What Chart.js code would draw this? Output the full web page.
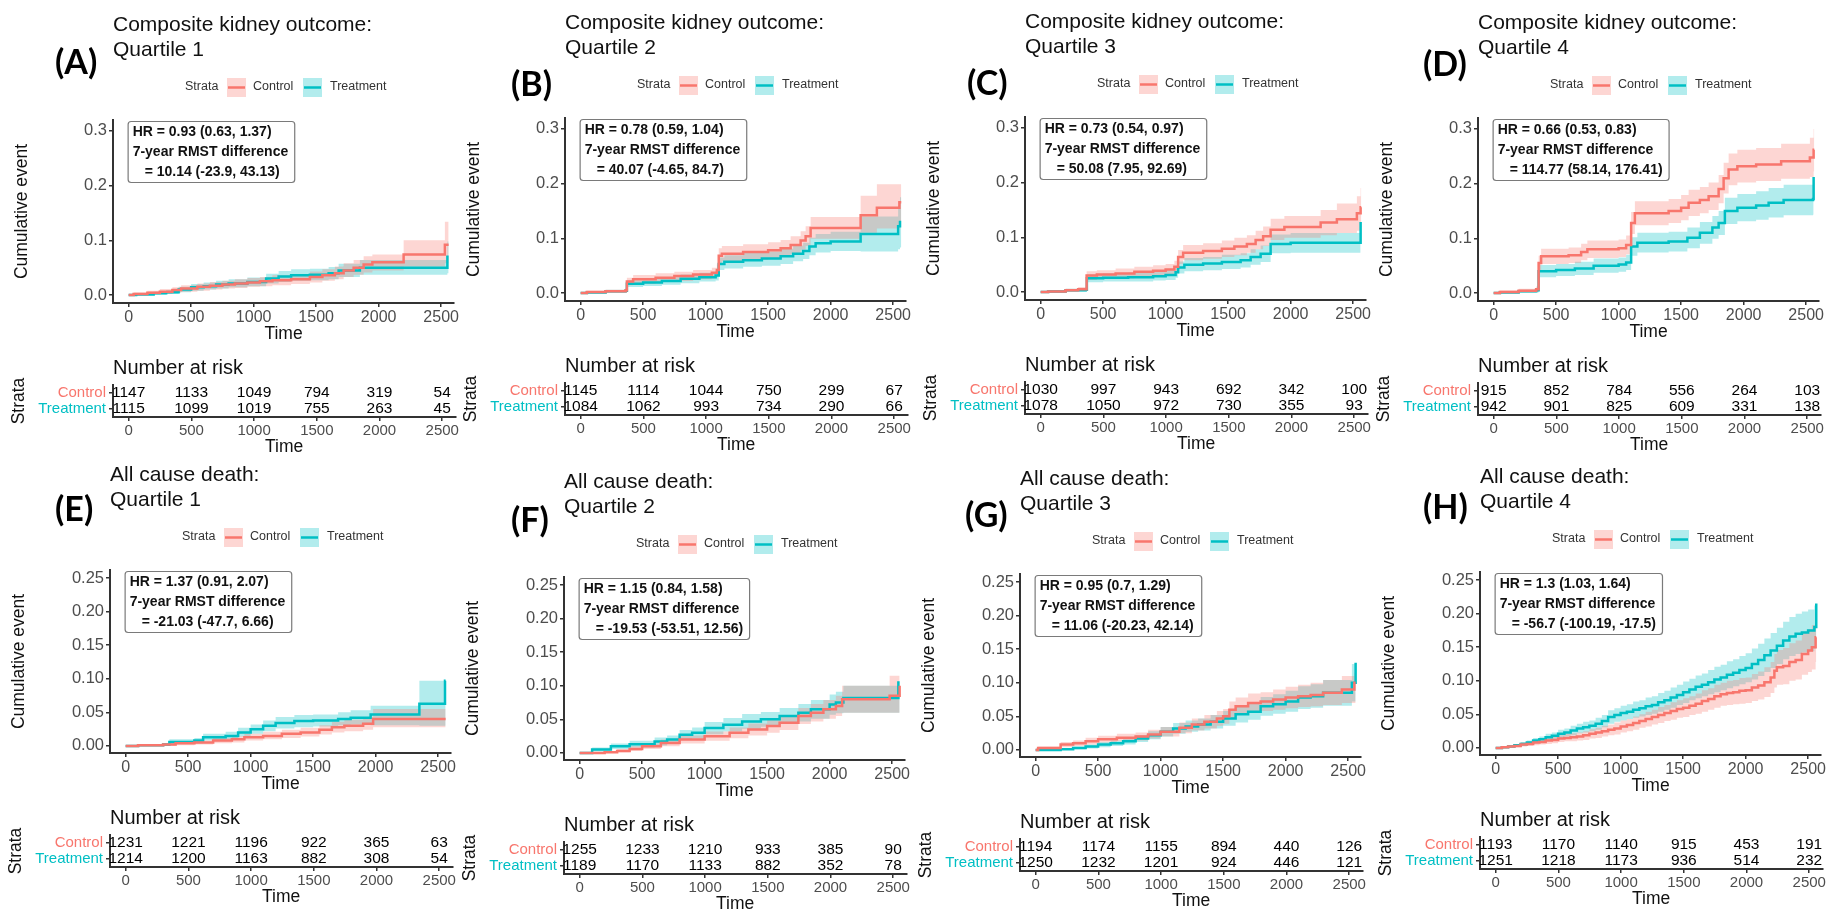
<!DOCTYPE html>
<html><head><meta charset="utf-8">
<script src="https://cdn.jsdelivr.net/npm/chart.js@4.4.1/dist/chart.umd.min.js"></script>
<style>
html,body{margin:0;padding:0;background:#fff;}
body{width:1829px;height:911px;overflow:hidden;position:relative;}
canvas{position:absolute;}
</style></head>
<body>
<script>
// ---------------- DATA ----------------
const timeTicks = [0, 500, 1000, 1500, 2000, 2500];
const kidneyYTicks = [0, 0.1, 0.2, 0.3];
const deathYTicks = [0, 0.05, 0.10, 0.15, 0.20, 0.25];
const strataNames = ['Control', 'Treatment'];
const outcomeTitles = ['Composite kidney outcome:', 'All cause death:'];
const quartileLabels = ['Quartile 1', 'Quartile 2', 'Quartile 3', 'Quartile 4'];
const panelLetters = ['A', 'B', 'C', 'D', 'E', 'F', 'G', 'H'];
const hrText = ['HR = 0.93 (0.63, 1.37)', 'HR = 0.78 (0.59, 1.04)', 'HR = 0.73 (0.54, 0.97)', 'HR = 0.66 (0.53, 0.83)',
                'HR = 1.37 (0.91, 2.07)', 'HR = 1.15 (0.84, 1.58)', 'HR = 0.95 (0.7, 1.29)', 'HR = 1.3 (1.03, 1.64)'];
const rmstLabel = '7-year RMST difference';
const rmstText = ['= 10.14 (-23.9, 43.13)', '= 40.07 (-4.65, 84.7)', '= 50.08 (7.95, 92.69)', '= 114.77 (58.14, 176.41)',
                  '= -21.03 (-47.7, 6.66)', '= -19.53 (-53.51, 12.56)', '= 11.06 (-20.23, 42.14)', '= -56.7 (-100.19, -17.5)'];

// curves: [time, cumulative event, lower CI, upper CI]
const kidneyQ1_control = [[0,0,0,0],[40,0.002,0,0.005],[150,0.004,0.001,0.008],[250,0.006,0.002,0.011],[350,0.009,0.004,0.014],[420,0.012,0.006,0.018],[550,0.015,0.008,0.021],[650,0.017,0.010,0.024],[750,0.019,0.012,0.026],[850,0.021,0.013,0.029],[950,0.023,0.015,0.031],[1050,0.025,0.016,0.033],[1150,0.027,0.018,0.036],[1300,0.029,0.020,0.038],[1450,0.033,0.023,0.043],[1550,0.036,0.026,0.047],[1650,0.040,0.029,0.052],[1720,0.045,0.033,0.058],[1800,0.050,0.037,0.064],[1880,0.056,0.041,0.071],[1950,0.060,0.045,0.074],[2200,0.074,0.052,0.100],[2530,0.092,0.058,0.134],[2560,0.092,0.058,0.134]];
const kidneyQ1_treatment = [[0,0,0,0],[60,0.001,0,0.003],[200,0.003,0.001,0.006],[300,0.005,0.002,0.009],[400,0.010,0.005,0.015],[500,0.014,0.008,0.020],[600,0.016,0.010,0.023],[700,0.019,0.012,0.026],[800,0.021,0.014,0.029],[950,0.024,0.016,0.032],[1100,0.030,0.021,0.039],[1200,0.034,0.024,0.044],[1300,0.036,0.026,0.047],[1450,0.037,0.027,0.048],[1600,0.040,0.029,0.051],[1680,0.045,0.033,0.057],[1850,0.050,0.037,0.064],[2550,0.070,0.040,0.098],[2560,0.070,0.040,0.098]];
const kidneyQ2_control = [[0,0,0,0],[50,0.002,0,0.004],[200,0.003,0.001,0.006],[360,0.005,0.002,0.009],[370,0.021,0.014,0.028],[420,0.025,0.017,0.033],[600,0.028,0.020,0.036],[750,0.031,0.022,0.039],[900,0.034,0.025,0.042],[1050,0.037,0.027,0.046],[1090,0.042,0.032,0.052],[1105,0.068,0.055,0.082],[1130,0.072,0.058,0.086],[1300,0.075,0.061,0.089],[1500,0.078,0.064,0.093],[1600,0.082,0.067,0.097],[1680,0.088,0.072,0.104],[1760,0.096,0.079,0.113],[1800,0.104,0.086,0.122],[1840,0.119,0.099,0.139],[2240,0.142,0.110,0.178],[2370,0.156,0.118,0.199],[2550,0.166,0.122,0.199],[2565,0.166,0.122,0.199]];
const kidneyQ2_treatment = [[0,0,0,0],[50,0.001,0,0.003],[200,0.003,0.001,0.006],[360,0.004,0.001,0.008],[370,0.017,0.011,0.023],[500,0.019,0.013,0.026],[650,0.022,0.015,0.029],[800,0.026,0.018,0.034],[950,0.029,0.021,0.037],[1080,0.032,0.023,0.041],[1105,0.053,0.042,0.065],[1150,0.057,0.045,0.069],[1300,0.060,0.048,0.073],[1450,0.063,0.050,0.076],[1600,0.067,0.053,0.081],[1700,0.072,0.058,0.087],[1780,0.077,0.062,0.092],[1830,0.085,0.069,0.101],[1880,0.091,0.074,0.108],[2000,0.094,0.077,0.112],[2240,0.108,0.076,0.140],[2540,0.122,0.080,0.160],[2555,0.130,0.083,0.175],[2565,0.130,0.083,0.175]];
const kidneyQ3_control = [[0,0,0,0],[60,0.001,0,0.003],[200,0.003,0.001,0.006],[300,0.005,0.002,0.009],[368,0.030,0.022,0.038],[450,0.032,0.024,0.040],[600,0.034,0.025,0.043],[750,0.037,0.028,0.046],[900,0.039,0.029,0.049],[1000,0.041,0.031,0.051],[1070,0.046,0.035,0.057],[1100,0.064,0.051,0.077],[1140,0.072,0.058,0.086],[1300,0.075,0.061,0.089],[1450,0.079,0.064,0.094],[1550,0.083,0.067,0.099],[1650,0.088,0.072,0.104],[1720,0.095,0.078,0.112],[1780,0.102,0.084,0.120],[1840,0.114,0.095,0.134],[1950,0.119,0.099,0.139],[2240,0.127,0.104,0.150],[2370,0.133,0.108,0.162],[2530,0.144,0.112,0.175],[2560,0.155,0.120,0.190],[2565,0.155,0.120,0.190]];
const kidneyQ3_treatment = [[0,0,0,0],[60,0.001,0,0.003],[200,0.003,0.001,0.006],[360,0.004,0.001,0.008],[370,0.025,0.018,0.032],[500,0.026,0.019,0.034],[700,0.027,0.019,0.035],[900,0.029,0.021,0.037],[1000,0.031,0.022,0.040],[1080,0.036,0.026,0.046],[1100,0.045,0.034,0.056],[1150,0.050,0.038,0.062],[1300,0.052,0.040,0.064],[1450,0.055,0.042,0.068],[1600,0.058,0.045,0.071],[1680,0.064,0.050,0.078],[1760,0.070,0.055,0.085],[1840,0.088,0.071,0.105],[2000,0.090,0.072,0.108],[2555,0.090,0.072,0.108],[2560,0.128,0.072,0.130]];
const kidneyQ4_control = [[0,0,0,0],[50,0.002,0,0.005],[200,0.004,0.001,0.008],[340,0.007,0.002,0.012],[360,0.055,0.042,0.068],[380,0.067,0.053,0.081],[600,0.069,0.055,0.083],[700,0.075,0.060,0.090],[750,0.080,0.064,0.096],[1000,0.082,0.066,0.098],[1060,0.088,0.071,0.105],[1100,0.128,0.108,0.148],[1130,0.146,0.124,0.168],[1400,0.150,0.128,0.172],[1500,0.156,0.133,0.179],[1560,0.165,0.141,0.189],[1650,0.170,0.146,0.194],[1720,0.177,0.152,0.202],[1800,0.190,0.164,0.216],[1840,0.210,0.182,0.238],[1880,0.226,0.197,0.255],[1950,0.232,0.202,0.262],[2100,0.235,0.205,0.265],[2300,0.241,0.209,0.273],[2530,0.248,0.212,0.284],[2560,0.262,0.222,0.300],[2565,0.262,0.222,0.300]];
const kidneyQ4_treatment = [[0,0,0,0],[50,0.001,0,0.003],[200,0.003,0.001,0.006],[340,0.005,0.001,0.009],[360,0.040,0.029,0.051],[500,0.042,0.031,0.053],[650,0.045,0.033,0.057],[800,0.050,0.037,0.063],[1000,0.052,0.039,0.065],[1060,0.056,0.042,0.070],[1100,0.085,0.068,0.102],[1150,0.092,0.074,0.110],[1400,0.094,0.076,0.112],[1550,0.101,0.082,0.120],[1650,0.110,0.090,0.130],[1750,0.120,0.099,0.141],[1800,0.128,0.106,0.150],[1850,0.150,0.126,0.174],[1950,0.156,0.131,0.181],[2100,0.160,0.134,0.186],[2200,0.165,0.138,0.192],[2320,0.170,0.142,0.198],[2555,0.172,0.143,0.200],[2560,0.212,0.143,0.215]];
const deathQ1_control = [[0,0,0,0],[100,0.001,0,0.003],[300,0.002,0,0.004],[400,0.004,0.001,0.007],[550,0.005,0.002,0.008],[700,0.008,0.004,0.012],[850,0.010,0.005,0.015],[950,0.013,0.008,0.018],[1100,0.015,0.010,0.021],[1250,0.018,0.012,0.024],[1400,0.020,0.014,0.027],[1550,0.024,0.017,0.031],[1650,0.028,0.020,0.036],[1750,0.030,0.022,0.039],[1900,0.033,0.024,0.043],[1980,0.040,0.028,0.055],[2560,0.040,0.028,0.055]];
const deathQ1_treatment = [[0,0,0,0],[100,0.001,0,0.003],[300,0.002,0,0.004],[350,0.006,0.003,0.010],[550,0.008,0.004,0.012],[620,0.013,0.008,0.018],[800,0.015,0.010,0.021],[900,0.020,0.014,0.027],[1000,0.025,0.018,0.032],[1100,0.030,0.022,0.038],[1200,0.034,0.026,0.043],[1350,0.037,0.028,0.046],[1500,0.038,0.029,0.047],[1700,0.040,0.031,0.050],[1800,0.042,0.032,0.053],[1960,0.047,0.031,0.060],[2350,0.063,0.030,0.097],[2555,0.097,0.030,0.097],[2560,0.097,0.030,0.097]];
const deathQ2_control = [[0,0,0,0],[200,0.001,0,0.003],[300,0.003,0.001,0.006],[400,0.006,0.003,0.010],[500,0.010,0.006,0.014],[650,0.015,0.010,0.020],[800,0.020,0.014,0.026],[1000,0.025,0.018,0.032],[1200,0.030,0.022,0.038],[1350,0.035,0.026,0.044],[1500,0.040,0.030,0.050],[1600,0.045,0.034,0.056],[1750,0.055,0.043,0.067],[1850,0.060,0.047,0.073],[1950,0.065,0.051,0.079],[2050,0.070,0.055,0.085],[2100,0.080,0.060,0.100],[2480,0.085,0.060,0.115],[2560,0.100,0.060,0.115]];
const deathQ2_treatment = [[0,0,0,0],[100,0.005,0.002,0.008],[250,0.010,0.006,0.014],[400,0.013,0.008,0.018],[600,0.017,0.011,0.023],[700,0.020,0.014,0.026],[800,0.027,0.020,0.034],[900,0.030,0.022,0.038],[1000,0.037,0.028,0.046],[1150,0.042,0.032,0.052],[1300,0.047,0.036,0.058],[1450,0.050,0.039,0.061],[1600,0.055,0.043,0.067],[1750,0.060,0.047,0.073],[1850,0.065,0.051,0.079],[2000,0.072,0.057,0.087],[2050,0.075,0.059,0.091],[2110,0.082,0.060,0.100],[2550,0.105,0.060,0.100],[2560,0.105,0.060,0.105]];
const deathQ3_control = [[0,0,0,0],[20,0.003,0.001,0.005],[200,0.008,0.004,0.012],[300,0.010,0.006,0.014],[400,0.013,0.008,0.018],[500,0.016,0.011,0.021],[650,0.018,0.013,0.024],[800,0.020,0.014,0.026],[900,0.023,0.017,0.030],[1000,0.027,0.020,0.034],[1150,0.033,0.025,0.041],[1250,0.038,0.029,0.047],[1350,0.042,0.032,0.052],[1450,0.047,0.036,0.058],[1500,0.050,0.039,0.061],[1550,0.060,0.048,0.072],[1600,0.065,0.052,0.078],[1700,0.070,0.056,0.084],[1800,0.072,0.058,0.086],[1900,0.075,0.060,0.090],[2000,0.078,0.062,0.094],[2100,0.080,0.064,0.097],[2200,0.082,0.065,0.100],[2300,0.085,0.067,0.104],[2450,0.090,0.070,0.110],[2550,0.100,0.070,0.115],[2560,0.100,0.070,0.115]];
const deathQ3_treatment = [[0,0,0,0],[200,0.001,0,0.003],[300,0.003,0.001,0.005],[400,0.005,0.002,0.008],[500,0.008,0.004,0.012],[600,0.010,0.006,0.014],[700,0.013,0.008,0.018],[800,0.017,0.012,0.022],[900,0.022,0.016,0.028],[1000,0.027,0.020,0.034],[1100,0.032,0.024,0.040],[1200,0.035,0.027,0.044],[1300,0.038,0.029,0.047],[1400,0.042,0.032,0.052],[1500,0.047,0.036,0.058],[1600,0.053,0.041,0.065],[1700,0.057,0.045,0.069],[1800,0.065,0.051,0.079],[1900,0.068,0.054,0.083],[2000,0.072,0.057,0.088],[2100,0.078,0.061,0.095],[2200,0.080,0.063,0.098],[2300,0.085,0.066,0.104],[2530,0.100,0.072,0.128],[2560,0.130,0.072,0.130]];
const deathQ4_control = [[0,0,0,0],[50,0.001,0,0.002],[100,0.002,0.001,0.004],[150,0.003,0.001,0.005],[200,0.005,0.002,0.008],[250,0.006,0.003,0.009],[300,0.008,0.004,0.011],[350,0.009,0.005,0.013],[400,0.011,0.006,0.015],[450,0.012,0.007,0.017],[500,0.014,0.009,0.019],[550,0.015,0.010,0.021],[600,0.016,0.010,0.022],[650,0.017,0.011,0.023],[700,0.019,0.012,0.025],[750,0.021,0.014,0.028],[800,0.023,0.015,0.030],[850,0.025,0.017,0.033],[900,0.027,0.019,0.035],[950,0.029,0.020,0.038],[1000,0.032,0.023,0.041],[1050,0.034,0.025,0.043],[1100,0.037,0.027,0.047],[1150,0.040,0.030,0.050],[1200,0.043,0.032,0.054],[1250,0.046,0.035,0.057],[1300,0.049,0.037,0.061],[1350,0.052,0.040,0.064],[1400,0.055,0.042,0.068],[1450,0.058,0.045,0.071],[1500,0.060,0.046,0.074],[1550,0.063,0.049,0.077],[1600,0.066,0.051,0.081],[1650,0.070,0.054,0.086],[1700,0.073,0.057,0.089],[1750,0.077,0.060,0.094],[1800,0.080,0.063,0.097],[1850,0.082,0.064,0.100],[1900,0.083,0.065,0.101],[1950,0.085,0.066,0.104],[2000,0.086,0.067,0.105],[2050,0.090,0.070,0.110],[2100,0.093,0.072,0.114],[2150,0.098,0.076,0.120],[2200,0.105,0.082,0.128],[2230,0.115,0.090,0.140],[2250,0.120,0.094,0.146],[2300,0.122,0.095,0.149],[2350,0.128,0.100,0.156],[2400,0.131,0.102,0.160],[2450,0.140,0.109,0.171],[2500,0.145,0.113,0.177],[2530,0.150,0.117,0.183],[2560,0.165,0.128,0.200],[2565,0.165,0.128,0.200]];
const deathQ4_treatment = [[0,0,0,0],[50,0.001,0,0.002],[100,0.002,0.001,0.004],[150,0.004,0.002,0.006],[200,0.006,0.003,0.009],[250,0.008,0.005,0.011],[300,0.011,0.007,0.015],[350,0.013,0.009,0.017],[400,0.016,0.011,0.021],[450,0.018,0.013,0.023],[500,0.021,0.015,0.027],[550,0.023,0.017,0.029],[600,0.026,0.019,0.033],[650,0.029,0.022,0.036],[700,0.031,0.023,0.039],[750,0.033,0.025,0.041],[800,0.036,0.027,0.045],[850,0.040,0.031,0.049],[900,0.046,0.036,0.056],[950,0.049,0.039,0.059],[1000,0.052,0.041,0.063],[1050,0.054,0.043,0.065],[1100,0.057,0.045,0.069],[1150,0.059,0.047,0.071],[1200,0.062,0.049,0.075],[1250,0.064,0.051,0.077],[1300,0.068,0.054,0.082],[1350,0.071,0.057,0.085],[1400,0.075,0.060,0.090],[1450,0.079,0.064,0.094],[1500,0.083,0.067,0.099],[1550,0.087,0.071,0.103],[1600,0.091,0.074,0.108],[1650,0.094,0.077,0.111],[1700,0.098,0.080,0.116],[1750,0.102,0.083,0.121],[1800,0.105,0.086,0.124],[1850,0.109,0.089,0.129],[1900,0.112,0.092,0.132],[1950,0.116,0.095,0.137],[2000,0.119,0.098,0.141],[2050,0.125,0.102,0.148],[2100,0.131,0.107,0.155],[2150,0.138,0.113,0.163],[2200,0.145,0.119,0.171],[2250,0.152,0.125,0.179],[2300,0.160,0.132,0.188],[2350,0.166,0.137,0.195],[2400,0.170,0.140,0.200],[2450,0.172,0.142,0.203],[2500,0.175,0.144,0.206],[2550,0.180,0.148,0.212],[2565,0.215,0.160,0.215]];

// number at risk at timeTicks
const kidneyQ1_riskControl = [1147, 1133, 1049, 794, 319, 54];
const kidneyQ1_riskTreatment = [1115, 1099, 1019, 755, 263, 45];
const kidneyQ2_riskControl = [1145, 1114, 1044, 750, 299, 67];
const kidneyQ2_riskTreatment = [1084, 1062, 993, 734, 290, 66];
const kidneyQ3_riskControl = [1030, 997, 943, 692, 342, 100];
const kidneyQ3_riskTreatment = [1078, 1050, 972, 730, 355, 93];
const kidneyQ4_riskControl = [915, 852, 784, 556, 264, 103];
const kidneyQ4_riskTreatment = [942, 901, 825, 609, 331, 138];
const deathQ1_riskControl = [1231, 1221, 1196, 922, 365, 63];
const deathQ1_riskTreatment = [1214, 1200, 1163, 882, 308, 54];
const deathQ2_riskControl = [1255, 1233, 1210, 933, 385, 90];
const deathQ2_riskTreatment = [1189, 1170, 1133, 882, 352, 78];
const deathQ3_riskControl = [1194, 1174, 1155, 894, 440, 126];
const deathQ3_riskTreatment = [1250, 1232, 1201, 924, 446, 121];
const deathQ4_riskControl = [1193, 1170, 1140, 915, 453, 191];
const deathQ4_riskTreatment = [1251, 1218, 1173, 936, 514, 232];

// ---------------- LAYOUT / STYLE ----------------
const RED = '#F8766D', TEAL = '#00BFC4';
const RED_FILL = 'rgba(248,118,109,0.30)', TEAL_FILL = 'rgba(0,191,196,0.30)';
const FONT = "'Liberation Sans', Arial, Helvetica, sans-serif";
const panelOrigin = [[0,0],[452,-2],[912,-3],[1365,-2],[-3,450],[451,457],[907,454],[1367,452]];
const letterPos = [[55,63],[59,87],[55,87],[58,67],[58,60],[60,64],[58,62],[56,56]];
Chart.defaults.font.family = FONT;

const curveSets = [
  [kidneyQ1_control, kidneyQ1_treatment], [kidneyQ2_control, kidneyQ2_treatment],
  [kidneyQ3_control, kidneyQ3_treatment], [kidneyQ4_control, kidneyQ4_treatment],
  [deathQ1_control, deathQ1_treatment], [deathQ2_control, deathQ2_treatment],
  [deathQ3_control, deathQ3_treatment], [deathQ4_control, deathQ4_treatment]];
const riskSets = [
  [kidneyQ1_riskControl, kidneyQ1_riskTreatment], [kidneyQ2_riskControl, kidneyQ2_riskTreatment],
  [kidneyQ3_riskControl, kidneyQ3_riskTreatment], [kidneyQ4_riskControl, kidneyQ4_riskTreatment],
  [deathQ1_riskControl, deathQ1_riskTreatment], [deathQ2_riskControl, deathQ2_riskTreatment],
  [deathQ3_riskControl, deathQ3_riskTreatment], [deathQ4_riskControl, deathQ4_riskTreatment]];

const X_MIN = -125, X_MAX = 2604;

function makeCanvas(left, top, w, h) {
  const c = document.createElement('canvas');
  c.width = w; c.height = h;
  c.style.left = left + 'px'; c.style.top = top + 'px';
  c.style.width = w + 'px'; c.style.height = h + 'px';
  document.body.appendChild(c);
  return c;
}

function xScale(fontSize) {
  return {
    type: 'linear', min: X_MIN, max: X_MAX,
    afterBuildTicks: s => { s.ticks = timeTicks.map(v => ({ value: v })); },
    ticks: { font: { size: fontSize }, color: '#4d4d4d', padding: 1, maxRotation: 0, autoSkip: false, callback: v => String(v) },
    grid: { drawOnChartArea: false, drawTicks: true, tickLength: 4, color: '#333', lineWidth: 1.5 },
    border: { display: true, color: '#333', width: 2 },
    title: { display: true, text: 'Time', color: '#111', font: { size: 17.5, lineHeight: 1.2 }, padding: { top: 0, bottom: 0 } }
  };
}

function kmDecor(i) {
  const isKidney = i < 4;
  return {
    id: 'kmDecor',
    afterDraw(chart) {
      const { ctx, chartArea, scales: { x } } = chart;
      ctx.save();
      ctx.textBaseline = 'middle'; ctx.textAlign = 'left';
      // titles
      ctx.fillStyle = '#111';
      ctx.font = '21px ' + FONT;
      ctx.fillText(outcomeTitles[isKidney ? 0 : 1], chartArea.left, 25);
      ctx.fillText(quartileLabels[i % 4], chartArea.left, 50);
      // panel letter
      ctx.fillStyle = '#000';
      ctx.font = "bold 34px Lato, 'Open Sans', sans-serif";
      ctx.fillText('(' + panelLetters[i] + ')', letterPos[i][0], letterPos[i][1]);
      // legend
      ctx.font = '12.5px ' + FONT;
      ctx.fillStyle = '#333';
      ctx.fillText('Strata', 185, 87);
      const keys = [[227, RED_FILL, RED, strataNames[0], 253], [303, TEAL_FILL, TEAL, strataNames[1], 330]];
      keys.forEach(([kx, fill, line, label, tx]) => {
        ctx.fillStyle = fill; ctx.fillRect(kx, 78, 19, 19);
        ctx.strokeStyle = line; ctx.lineWidth = 2.5;
        ctx.beginPath(); ctx.moveTo(kx + 1, 87.5); ctx.lineTo(kx + 18, 87.5); ctx.stroke();
        ctx.fillStyle = '#333'; ctx.fillText(label, tx, 87);
      });
      // annotation box
      ctx.font = 'bold 14px ' + FONT;
      const l1 = hrText[i], l2 = rmstLabel, l3 = rmstText[i];
      const indent = 12;
      const w = Math.max(ctx.measureText(l1).width, ctx.measureText(l2).width, ctx.measureText(l3).width + indent) + 11;
      const bx = x.getPixelForValue(0) - 1, by = chartArea.top + 1, bh = 61;
      ctx.beginPath();
      ctx.roundRect(bx + 0.5, by + 0.5, w, bh, 3);
      ctx.fillStyle = '#fff'; ctx.fill();
      ctx.strokeStyle = '#7a7a7a'; ctx.lineWidth = 1.2; ctx.stroke();
      ctx.fillStyle = '#111';
      ctx.fillText(l1, bx + 5, by + 11);
      ctx.fillText(l2, bx + 5, by + 31);
      ctx.fillText(l3, bx + 5 + indent, by + 51);
      ctx.restore();
    }
  };
}

function riskDecor(i) {
  return {
    id: 'riskDecor',
    afterDatasetsDraw(chart) {
      const { ctx, chartArea } = chart;
      ctx.save();
      ctx.textBaseline = 'middle';
      ctx.textAlign = 'left';
      ctx.fillStyle = '#111';
      ctx.font = '20px ' + FONT;
      ctx.fillText('Number at risk', chartArea.left, 23);
      ctx.textAlign = 'center';
      ctx.font = '15.5px ' + FONT;
      ctx.fillStyle = '#000';
      chart.data.datasets.forEach((ds, di) => {
        const meta = chart.getDatasetMeta(di);
        meta.data.forEach((pt, k) => {
          ctx.fillText(String(ds.data[k].n), pt.x, pt.y);
        });
      });
      ctx.restore();
    }
  };
}

for (let i = 0; i < 8; i++) {
  const [ox, oy] = panelOrigin[i];
  const isKidney = i < 4;
  const [ctrl, trt] = curveSets[i];
  const col = (arr, k) => arr.map(r => ({ x: r[0], y: r[k] }));
  const line = (data, color) => ({ data, borderColor: color, borderWidth: 2.5, stepped: 'before', pointRadius: 0, fill: false, tension: 0 });
  const band = (data, fill, bg) => ({ data, borderColor: 'rgba(0,0,0,0)', borderWidth: 0, stepped: 'before', pointRadius: 0, fill, backgroundColor: bg, tension: 0 });

  const yTicks = isKidney ? kidneyYTicks : deathYTicks;
  const dec = isKidney ? 1 : 2;
  const c1 = makeCanvas(ox, oy, 460, 345);
  new Chart(c1, {
    type: 'line',
    data: {
      datasets: [
        line(col(ctrl, 1), RED),
        line(col(trt, 1), TEAL),
        band(col(ctrl, 2), false, RED_FILL),
        band(col(ctrl, 3), '-1', RED_FILL),
        band(col(trt, 2), false, TEAL_FILL),
        band(col(trt, 3), '-1', TEAL_FILL)
      ]
    },
    options: {
      responsive: false, animation: false, events: [],
      layout: { padding: { top: 120, right: 2, left: 0, bottom: 0 } },
      plugins: { legend: { display: false }, tooltip: { enabled: false } },
      scales: {
        x: Object.assign(xScale(16), { afterFit: s => { s.height = 42; } }),
        y: {
          type: 'linear',
          min: isKidney ? -0.0146 : -0.0105,
          max: isKidney ? 0.320 : 0.262,
          afterBuildTicks: s => { s.ticks = yTicks.map(v => ({ value: v })); },
          afterFit: s => { s.width = 113; },
          ticks: { font: { size: 16.5 }, color: '#4d4d4d', padding: 2, callback: v => Number(v).toFixed(dec), autoSkip: false },
          grid: { drawOnChartArea: false, drawTicks: true, tickLength: 4, color: '#333', lineWidth: 1.5 },
          border: { display: true, color: '#333', width: 2 },
          title: { display: true, text: 'Cumulative event', color: '#111', font: { size: 17.5, lineHeight: 1.2 }, padding: { top: 12, bottom: 0 } }
        }
      }
    },
    plugins: [kmDecor(i)]
  });

  // risk table
  const [rc, rt] = riskSets[i];
  const c2 = makeCanvas(ox, oy + 345, 460, 113);
  new Chart(c2, {
    type: 'scatter',
    data: {
      datasets: [
        { data: timeTicks.map((t, k) => ({ x: t, y: 3, n: rc[k] })), pointRadius: 0 },
        { data: timeTicks.map((t, k) => ({ x: t, y: 1, n: rt[k] })), pointRadius: 0 }
      ]
    },
    options: {
      responsive: false, animation: false, events: [],
      layout: { padding: { top: 40, right: 2, left: 0, bottom: 0 } },
      plugins: { legend: { display: false }, tooltip: { enabled: false } },
      scales: {
        x: Object.assign(xScale(15), { afterFit: s => { s.height = 41; } }),
        y: {
          type: 'linear', min: 0, max: 4,
          afterBuildTicks: s => { s.ticks = [{ value: 1 }, { value: 3 }]; },
          afterFit: s => { s.width = 113; },
          ticks: {
            font: { size: 15 }, padding: 3, autoSkip: false,
            callback: v => (v === 3 ? strataNames[0] : strataNames[1]),
            color: c => (c.tick && c.tick.value === 3 ? RED : TEAL)
          },
          grid: { drawOnChartArea: false, drawTicks: true, tickLength: 4, color: '#333', lineWidth: 1.5 },
          border: { display: true, color: '#333', width: 2 },
          title: { display: true, text: 'Strata', color: '#111', font: { size: 17.5, lineHeight: 1.2 }, padding: { top: 9, bottom: 0 } }
        }
      }
    },
    plugins: [riskDecor(i)]
  });
}
</script>
</body></html>
